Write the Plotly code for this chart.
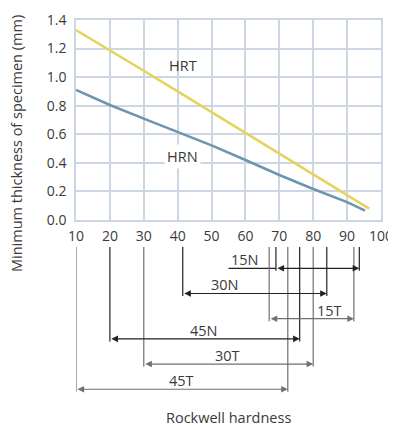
import plotly.graph_objects as go

# minimum specimen thickness curves
hrt_hardness = [10, 20, 30, 40, 50, 60, 70, 80, 90, 96.5]
hrt_thickness = [1.33, 1.19, 1.045, 0.9, 0.755, 0.607, 0.465, 0.32, 0.178, 0.08]
hrn_hardness = [10, 20, 30, 40, 50, 60, 70, 80, 90, 95.3]
hrn_thickness = [0.91, 0.805, 0.71, 0.615, 0.522, 0.42, 0.315, 0.217, 0.125, 0.065]

# hardness ranges of each superficial scale
scale_names = ["15N", "30N", "15T", "45N", "30T", "45T"]
scale_start = [69, 41.5, 67, 20, 30, 10]
scale_end = [93.6, 84, 92, 76, 80, 72.5]
label_at = [60, 54, 84.8, 47.7, 54.8, 41.1]

x_ticks = [10, 20, 30, 40, 50, 60, 70, 80, 90, 100]
y_ticks = [0.0, 0.2, 0.4, 0.6, 0.8, 1.0, 1.2, 1.4]

# layout helpers (row levels in the bracket panel)
row_y = [0, 1, 2, 2.8, 3.8, 4.8]
line_top = -0.85
leader_start = 55  # 15N label leader

FONT = "Open Sans, sans-serif"
FS = 14.5
TXT = "#3a3a3a"
GRID = "#ccd7e3"
N_COL = "#222222"
T_COL = "#707070"

fig = go.Figure()

fig.add_trace(go.Scatter(x=hrt_hardness, y=hrt_thickness, mode="lines",
                         line=dict(color="#e6d35c", width=2.5), hoverinfo="skip"))
fig.add_trace(go.Scatter(x=hrn_hardness, y=hrn_thickness, mode="lines",
                         line=dict(color="#6f94ad", width=2.5), hoverinfo="skip"))

annotations = [
    dict(x=41.5, y=1.08, text="HRT", showarrow=False, xref="x", yref="y",
         font=dict(size=FS, color=TXT)),
    dict(x=41.5, y=0.443, text="HRN", showarrow=False, xref="x", yref="y",
         bgcolor="white", borderpad=2, font=dict(size=FS, color=TXT)),
]

for name, s, e, lx, r in zip(scale_names, scale_start, scale_end, label_at, row_y):
    col = N_COL if name.endswith("N") else T_COL
    fig.add_trace(go.Scatter(
        x=[s, s, None, e, e],
        y=[line_top, r + 0.1, None, line_top, r + 0.1],
        mode="lines", line=dict(color=col, width=1.2),
        xaxis="x2", yaxis="y2", hoverinfo="skip"))
    if name == "15N":
        fig.add_trace(go.Scatter(
            x=[leader_start, s], y=[r, r], mode="lines",
            line=dict(color=col, width=1.2),
            xaxis="x2", yaxis="y2", hoverinfo="skip"))
    annotations.append(dict(
        x=e, y=r, ax=s, ay=r, xref="x2", yref="y2", axref="x2", ayref="y2",
        text="", showarrow=True, arrowhead=2, arrowside="end+start",
        arrowsize=1.1, arrowwidth=1.2, arrowcolor=col,
        standoff=0, startstandoff=0))
    annotations.append(dict(
        x=lx, y=r, xref="x2", yref="y2", text=name, showarrow=False,
        xanchor="center", yanchor="bottom", yshift=-3,
        font=dict(size=FS, color=TXT)))

annotations.append(dict(
    x=0, y=0.682, xref="paper", yref="paper", xshift=-60,
    xanchor="center", yanchor="middle",
    text="Minimum thickness of specimen (mm)", textangle=-90, showarrow=False,
    font=dict(size=FS, color=TXT)))
annotations.append(dict(
    x=0.5, y=-0.018, xref="paper", yref="paper", text="Rockwell hardness",
    xanchor="center", yanchor="middle",
    showarrow=False, font=dict(size=FS, color=TXT)))

fig.update_layout(
    width=396, height=430,
    margin=dict(l=68, r=23, t=12, b=28),
    paper_bgcolor="white", plot_bgcolor="white",
    showlegend=False,
    font=dict(family=FONT, size=FS, color=TXT),
    annotations=annotations,
    xaxis=dict(range=[10, 100], tickvals=x_ticks, showgrid=True, gridcolor=GRID,
               gridwidth=1.5, showline=True, linecolor=GRID, linewidth=1.5,
               mirror=True, zeroline=False, ticks="", anchor="y",
               automargin=False, ticklabelstandoff=2,
               tickfont=dict(size=14, color=TXT)),
    yaxis=dict(range=[0, 1.4], tickvals=y_ticks, tickformat=".1f",
               domain=[0.48718, 1], showgrid=True, gridcolor=GRID, gridwidth=1.5,
               showline=True, linecolor=GRID, linewidth=1.5, mirror=True,
               zeroline=False, ticks="", ticklabelstandoff=5, automargin=False,
               tickfont=dict(size=14, color=TXT)),
    xaxis2=dict(matches="x", anchor="y2", visible=False),
    yaxis2=dict(domain=[0, 0.4359], range=[5.623, -1.123], visible=False),
)

fig.write_html("out.html")
